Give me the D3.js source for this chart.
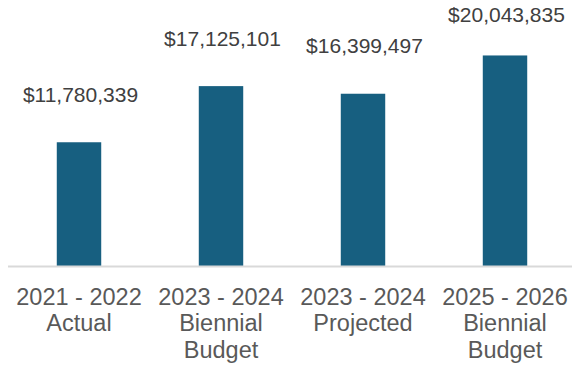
<!DOCTYPE html>
<html>
<head>
<meta charset="utf-8">
<script src="https://cdn.jsdelivr.net/npm/d3@7"></script>
<style>
  html, body { margin: 0; padding: 0; background: #fff; }
  svg { display: block; }
</style>
</head>
<body>
<svg id="chart" width="572" height="369"></svg>
<script>
// Chart data
const categories = [
  ["2021 - 2022", "Actual"],
  ["2023 - 2024", "Biennial", "Budget"],
  ["2023 - 2024", "Projected"],
  ["2025 - 2026", "Biennial", "Budget"]
];
const values = [11780339, 17125101, 16399497, 20043835];

const W = 572, H = 369;
const baseY = 266;
const svg = d3.select("#chart");

const x = d3.scaleBand()
  .domain(d3.range(values.length))
  .range([8, 576])
  .paddingInner(0.687)
  .paddingOuter(0.3435);

const y = d3.scaleLinear()
  .domain([0, 25000000])
  .range([baseY, 3.4]);

const fmt = v => "$" + d3.format(",")(v);

// Bars
svg.append("g").selectAll("rect")
  .data(values)
  .join("rect")
  .attr("x", (d, i) => x(i))
  .attr("y", d => y(d))
  .attr("width", x.bandwidth())
  .attr("height", d => baseY - y(d))
  .attr("fill", "#175f80");

// Baseline
svg.append("line")
  .attr("x1", 8).attr("x2", W)
  .attr("y1", baseY + 0.5).attr("y2", baseY + 0.5)
  .attr("stroke", "#d9d9d9")
  .attr("stroke-width", 2);

// Value labels
svg.append("g").selectAll("text")
  .data(values)
  .join("text")
  .attr("x", (d, i) => x(i) + x.bandwidth() / 2 + 1.5)
  .attr("y", d => Math.max(y(d) - 40.6, 22.3))
  .attr("text-anchor", "middle")
  .attr("font-family", "'Liberation Sans', Arial, sans-serif")
  .attr("font-size", 21)
  .attr("fill", "#404040")
  .text(d => fmt(d));

// Category labels
const cat = svg.append("g").selectAll("text")
  .data(categories)
  .join("text")
  .attr("x", (d, i) => x(i) + x.bandwidth() / 2)
  .attr("y", 304.5)
  .attr("text-anchor", "middle")
  .attr("font-family", "'Liberation Sans', Arial, sans-serif")
  .attr("font-size", 23.5)
  .attr("fill", "#595959");

cat.selectAll("tspan")
  .data(d => d)
  .join("tspan")
  .attr("x", function () { return d3.select(this.parentNode).attr("x"); })
  .attr("dy", (d, i) => i === 0 ? 0 : 26.5)
  .text(d => d);
</script>
</body>
</html>
